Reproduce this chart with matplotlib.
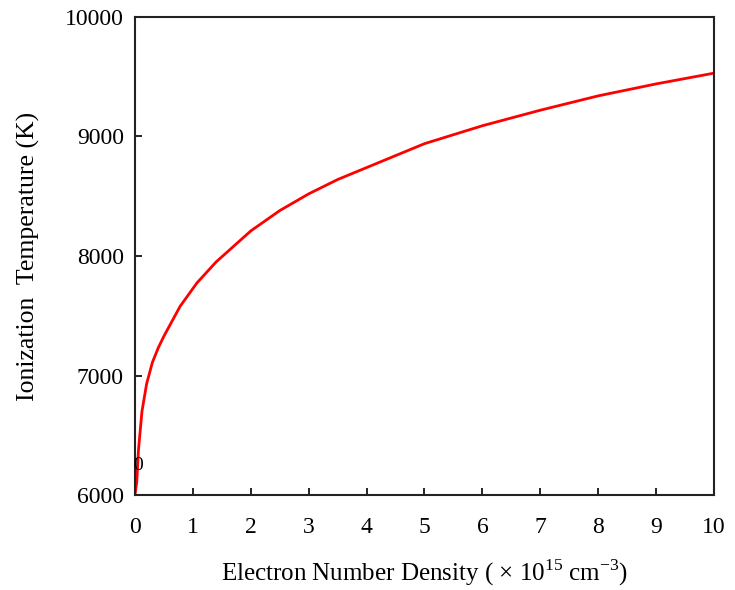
import numpy as np
import matplotlib.pyplot as plt

plt.rcParams['font.family'] = ['Liberation Serif', 'DejaVu Serif']
plt.rcParams['mathtext.fontset'] = 'custom'
plt.rcParams['mathtext.rm'] = 'Liberation Serif'

# electron number density (x 10^15 cm^-3) vs ionization temperature (K)
density = [0, 0.01, 0.03, 0.06, 0.12, 0.2, 0.3, 0.4, 0.5, 0.78, 1.07, 1.4,
           1.7, 2, 2.5, 3, 3.5, 4, 5, 6, 7, 8, 9, 10]
temp = [6000, 6040, 6110, 6380, 6700, 6930, 7110, 7230, 7330, 7580, 7775,
        7950, 8080, 8210, 8380, 8520, 8640, 8740, 8940, 9090, 9220, 9340,
        9440, 9530]

xticks = list(range(0, 11))
yticks = [6000, 7000, 8000, 9000, 10000]

fig = plt.figure(figsize=(7.35, 5.9), dpi=100)
ax = fig.add_axes([0.1837, 0.161, 0.7877, 0.8102])

ax.plot(density, temp, color='red', lw=2)
ax.text(0.05, 6250, '0', ha='center', va='center', fontsize=14)

ax.set_xlim(0, 10)
ax.set_ylim(6000, 10000)
ax.set_xticks(xticks)
ax.set_yticks(yticks)
ax.tick_params(direction='in', length=5, width=1.2, labelsize=17)
ax.tick_params(axis='x', pad=16)
ax.tick_params(axis='y', pad=8)
for s in ax.spines.values():
    s.set_linewidth(1.5)
    s.set_color('#222222')

ax.set_xlabel('Electron Number Density ( $\\times$ 10$^{15}$ cm$^{-3}$)', fontsize=18, labelpad=14)
ax.set_ylabel('Ionization  Temperature (K)', fontsize=18.5, labelpad=18)

fig.savefig('out.png', dpi=100)
